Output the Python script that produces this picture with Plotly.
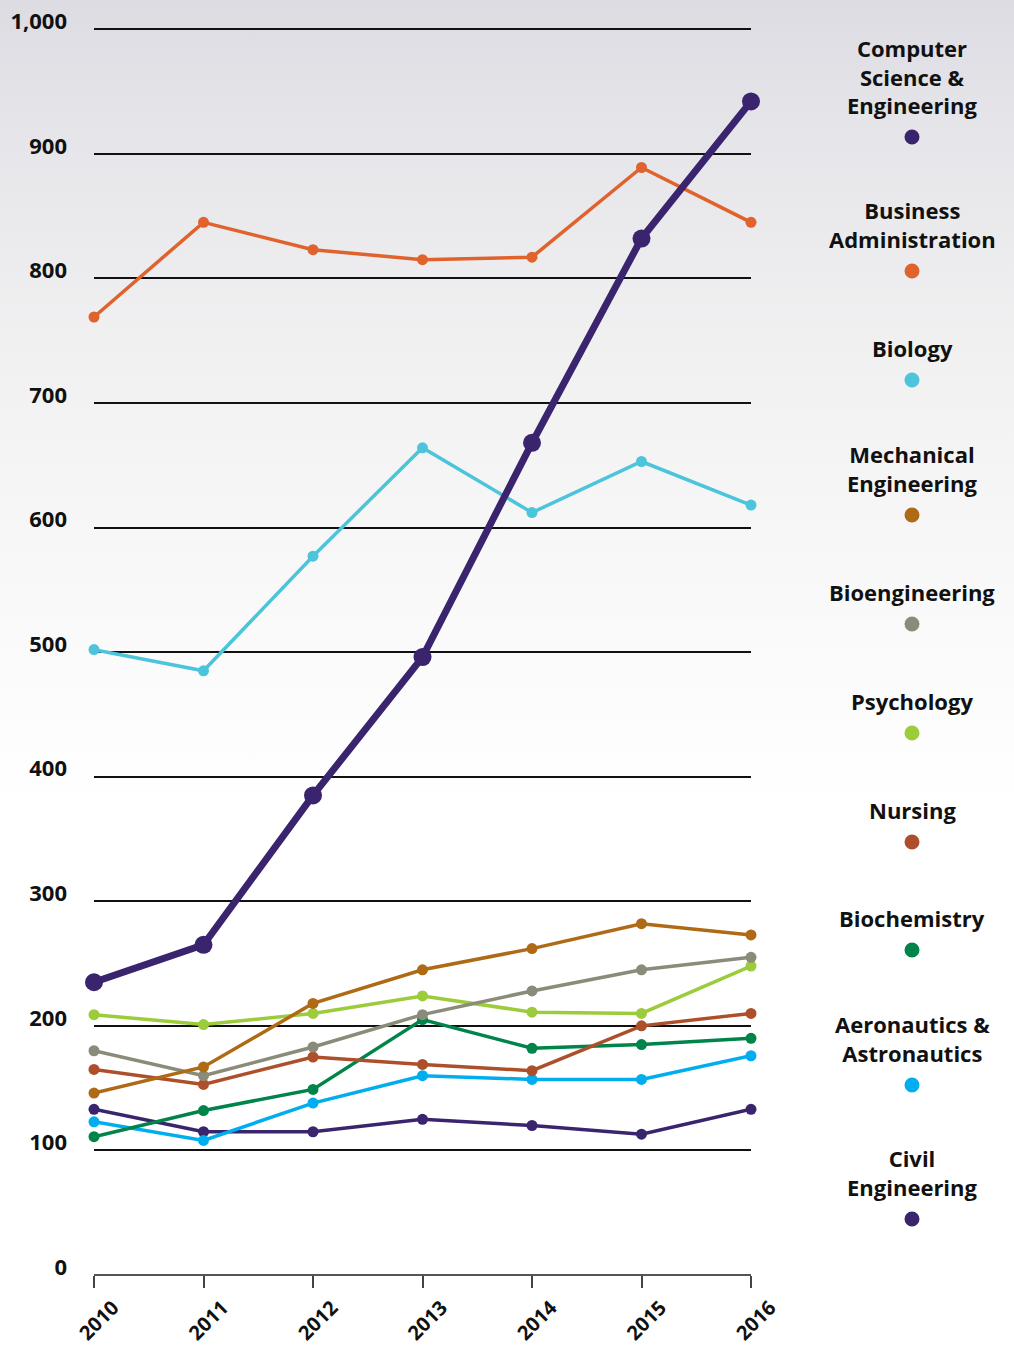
import base64
import plotly.graph_objects as go

years = [2010, 2011, 2012, 2013, 2014, 2015, 2016]

cse = [235, 265, 385, 496, 668, 832, 942]
business = [769, 845, 823, 815, 817, 889, 845]
biology = [502, 485, 577, 664, 612, 653, 618]
mechanical = [146, 167, 218, 245, 262, 282, 273]
bioengineering = [180, 160, 183, 209, 228, 245, 255]
psychology = [209, 201, 210, 224, 211, 210, 248]
nursing = [165, 153, 175, 169, 164, 200, 210]
biochemistry = [111, 132, 149, 205, 182, 185, 190]
aero = [123, 108, 138, 160, 157, 157, 176]
civil = [133, 115, 115, 125, 120, 113, 133]

series_names = ["Computer<br>Science &<br>Engineering", "Business<br>Administration", "Biology",
                "Mechanical<br>Engineering", "Bioengineering", "Psychology", "Nursing",
                "Biochemistry", "Aeronautics &<br>Astronautics", "Civil<br>Engineering"]
series_values = [cse, business, biology, mechanical, bioengineering, psychology, nursing,
                 biochemistry, aero, civil]
colors = ["#3A246E", "#E0622D", "#4CC4DB", "#AE6A14", "#8A8B78", "#9CCB3B", "#AE4F2B",
          "#00844A", "#00AEEF", "#3A246E"]

y_ticks = [0, 100, 200, 300, 400, 500, 600, 700, 800, 900, 1000]

W, H = 1014, 1348
ML, MR, MT, MB = 94, 263, 23, 73
PW, PH = W - ML - MR, H - MT - MB

def px_to_paper_x(px):
    return (px - ML) / PW

def px_to_paper_y(py):
    return (H - MB - py) / PH

fig = go.Figure()

order = list(range(len(series_values)))[::-1]
for i in order:
    thick = (i == 0)
    fig.add_trace(go.Scatter(
        x=years, y=series_values[i], mode="lines+markers",
        name=series_names[i].replace("<br>", " "),
        line=dict(color=colors[i], width=7 if thick else 3.5),
        marker=dict(color=colors[i], size=18 if thick else 11),
        cliponaxis=False, showlegend=False,
    ))

legend_dot_px = [137, 271, 380, 515, 624, 733, 842, 950, 1085, 1219]
legend_x_px = 912
shapes = []
annotations = []
for i, name in enumerate(series_names):
    xd = px_to_paper_x(legend_x_px)
    yd = px_to_paper_y(legend_dot_px[i])
    shapes.append(dict(type="circle", xref="paper", yref="paper",
                       xsizemode="pixel", ysizemode="pixel",
                       xanchor=xd, yanchor=yd, x0=-7.5, x1=7.5, y0=-7.5, y1=7.5,
                       fillcolor=colors[i], line=dict(width=0)))
    annotations.append(dict(text=name, xref="paper", yref="paper", x=xd, y=yd,
                            xanchor="center", yanchor="bottom", yshift=15,
                            showarrow=False, align="center",
                            font=dict(family="Open Sans", size=22, color="#111111", weight=700)))

svg = ('<svg xmlns="http://www.w3.org/2000/svg" width="100" height="100" preserveAspectRatio="none">'
       '<defs><linearGradient id="g" x1="0" y1="0" x2="0" y2="1">'
       '<stop offset="0" stop-color="#DDDCE3"/>'
       '<stop offset="0.12" stop-color="#E7E7EB"/>'
       '<stop offset="0.25" stop-color="#F0F0F1"/>'
       '<stop offset="0.42" stop-color="#F8F8F8"/>'
       '<stop offset="0.6" stop-color="#FFFFFF"/>'
       '<stop offset="1" stop-color="#FFFFFF"/>'
       '</linearGradient></defs><rect width="100" height="100" fill="url(#g)"/></svg>')
src = "data:image/svg+xml;base64," + base64.b64encode(svg.encode()).decode()

fig.update_layout(
    width=W, height=H,
    margin=dict(l=ML, r=MR, t=MT, b=MB, pad=0, autoexpand=False),
    paper_bgcolor="white", plot_bgcolor="rgba(0,0,0,0)",
    images=[dict(source=src, xref="paper", yref="paper",
                 x=px_to_paper_x(0), y=px_to_paper_y(0),
                 sizex=W / PW, sizey=H / PH, sizing="stretch",
                 xanchor="left", yanchor="top", layer="below")],
    shapes=shapes, annotations=annotations,
    font=dict(family="Open Sans", color="#111111"),
    showlegend=False,
)

fig.update_xaxes(
    range=[2010, 2016], tickvals=years, ticktext=[str(y) for y in years],
    tickangle=-45, ticks="outside", ticklen=12, tickcolor="#444444", tickwidth=1.5,
    showgrid=False, zeroline=False, showline=False, automargin=False,
    tickfont=dict(family="Open Sans", size=20, color="#111111", weight=700),
    ticklabelshift=19, ticklabelstandoff=0,
)
fig.update_yaxes(
    range=[0, 1005], tickvals=y_ticks, tickformat=",",
    showgrid=True, gridcolor="#111111", gridwidth=1.5,
    zeroline=True, zerolinecolor="#555555", zerolinewidth=2,
    showline=False, ticks="", automargin=False,
    tickfont=dict(family="Open Sans", size=22, color="#111111", weight=700),
    ticklabelstandoff=26, ticklabelshift=-8,
)

fig.write_html(
    "out.html",
    config={"displayModeBar": False},
    post_script=("document.documentElement.style.margin='0';"
                 "document.body.style.margin='0';"
                 "document.body.style.overflow='hidden';"),
)
